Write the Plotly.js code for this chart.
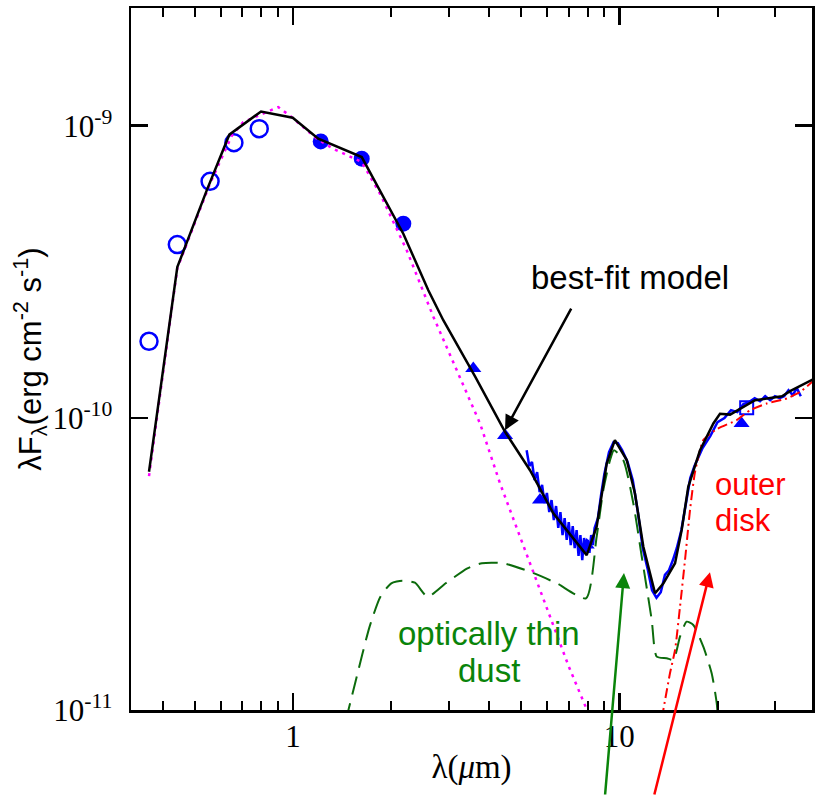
<!DOCTYPE html>
<html>
<head>
<meta charset="utf-8">
<script src="https://cdn.plot.ly/plotly-3.0.1.min.js"></script>
<style>
  html, body { margin: 0; padding: 0; background: #ffffff; }
  #sed { width: 816px; height: 796px; }
</style>
</head>
<body>
<div id="sed"></div>
<script>
// Spectral energy distribution: photometry, IRS spectrum and model components.
// Wavelengths in micron, fluxes as lambda*F_lambda in erg cm^-2 s^-1.

// Optical photometry (open circles)
const optWave = [0.362, 0.442, 0.557, 0.659, 0.788];
const optFlux = [1.829e-10, 3.918e-10, 6.450e-10, 8.747e-10, 9.767e-10];

// Near-infrared photometry (filled circles)
const nirWave = [1.216, 1.624, 2.178];
const nirFlux = [8.837e-10, 7.712e-10, 4.622e-10];

// Mid-infrared photometry (filled triangles)
const mirWave = [3.569, 4.465, 5.715, 7.944, 23.70];
const mirFlux = [1.475e-10, 8.71e-11, 5.231e-11, 3.670e-11, 9.569e-11];

// Far-side point (open square)
const sqWave = [24.57];
const sqFlux = [1.084e-10];

// IRS spectrum
const irsWave = [5.2, 5.3, 5.4, 5.5, 5.6, 5.7, 5.8, 5.9, 6.0, 6.1, 6.2, 6.3, 6.4, 6.5, 6.6, 6.7,
  6.8, 6.9, 7.0, 7.1, 7.2, 7.3, 7.4, 7.5, 7.6, 7.7, 7.8, 7.9, 8.0, 8.1, 8.2, 8.3, 8.4, 8.6, 8.8,
  9.0, 9.3, 9.6, 9.9, 10.2, 10.6, 11.0, 11.4, 11.8, 12.2, 12.6, 13.0, 13.4, 13.8, 14.2, 14.6,
  15.0, 15.5, 16.0, 16.5, 17.0, 17.5, 18, 19, 20, 21, 22, 23, 24, 25, 26, 27, 28, 29, 30, 31,
  32, 33, 34, 35, 36];
const irsFlux = [7.75e-11, 6.84e-11, 7.06e-11, 6.12e-11, 6.52e-11, 5.57e-11, 5.89e-11, 5.11e-11,
  5.53e-11, 4.76e-11, 5.23e-11, 4.47e-11, 4.99e-11, 4.20e-11, 4.76e-11, 3.97e-11, 4.54e-11,
  3.82e-11, 4.40e-11, 3.67e-11, 4.26e-11, 3.58e-11, 4.13e-11, 3.37e-11, 3.97e-11, 3.26e-11,
  3.88e-11, 3.47e-11, 3.82e-11, 3.45e-11, 3.97e-11, 3.67e-11, 4.20e-11, 4.54e-11, 5.48e-11,
  6.42e-11, 7.63e-11, 8.26e-11, 8.19e-11, 7.75e-11, 7.06e-11, 6.12e-11, 4.76e-11, 3.58e-11,
  3.06e-11, 2.57e-11, 2.42e-11, 2.53e-11, 2.90e-11, 3.01e-11, 3.26e-11, 3.58e-11, 4.13e-11,
  5.03e-11, 6.22e-11, 6.84e-11, 7.40e-11, 7.88e-11, 8.66e-11, 9.67e-11, 9.98e-11, 1.063e-10,
  1.046e-10, 1.114e-10, 1.132e-10, 1.168e-10, 1.141e-10, 1.186e-10, 1.150e-10, 1.186e-10,
  1.168e-10, 1.186e-10, 1.244e-10, 1.196e-10, 1.264e-10, 1.186e-10];

// Best-fit total model
const modelWave = [0.362, 0.442, 0.544, 0.638, 0.798, 0.998, 1.195, 1.624, 2.178, 2.598, 2.888,
  3.613, 4.465, 5.325, 6.277, 7.944, 8.523, 9.150, 9.694, 10.54, 11.17, 11.85, 12.87, 13.64,
  14.82, 15.53, 16.27, 17.68, 19.42, 20.35, 21.85, 26.06, 31.52, 33.37, 40];
const modelFlux = [6.54e-11, 3.28e-10, 6.01e-10, 9.32e-10, 1.119e-9, 1.065e-9, 9.03e-10, 7.81e-10,
  4.27e-10, 2.733e-10, 2.159e-10, 1.388e-10, 8.96e-11, 6.62e-11, 4.71e-11, 3.39e-11, 4.24e-11,
  6.98e-11, 8.39e-11, 7.17e-11, 5.51e-11, 3.62e-11, 2.51e-11, 2.71e-11, 3.18e-11, 4.13e-11,
  5.81e-11, 7.75e-11, 9.57e-11, 1.033e-10, 1.026e-10, 1.149e-10, 1.186e-10, 1.234e-10, 1.37e-10];

// Stellar photosphere
const photWave = [0.362, 0.442, 0.557, 0.650, 0.704, 0.901, 0.991, 1.182, 1.329, 1.624, 1.848,
  2.231, 2.692, 3.250, 3.743, 4.309, 4.963, 6.164, 7.002, 7.962, 8.25];
const photFlux = [6.32e-11, 3.25e-10, 6.35e-10, 9.26e-10, 1.029e-9, 1.158e-9, 1.070e-9, 9.03e-10,
  8.34e-10, 7.51e-10, 5.85e-10, 3.75e-10, 2.22e-10, 1.381e-10, 9.57e-11, 5.97e-11, 3.92e-11,
  2.09e-11, 1.408e-11, 1.0e-11, 8.9e-12];

// Optically thin dust component
const dustWave = [1.448, 1.550, 1.717, 1.853, 2.001, 2.161, 2.364, 2.584, 2.938, 3.424, 3.793,
  4.420, 5.325, 6.43, 7.907, 8.523, 8.933, 9.366, 9.633, 10.29, 11.04, 11.72, 12.57, 13.02,
  13.97, 14.64, 15.35, 16.09, 16.86, 18.09, 19.19, 19.89, 20.07];
const dustFlux = [9.1e-12, 1.235e-11, 1.929e-11, 2.442e-11, 2.715e-11, 2.771e-11, 2.727e-11,
  2.442e-11, 2.715e-11, 3.055e-11, 3.178e-11, 3.178e-11, 2.973e-11, 2.715e-11, 2.412e-11,
  3.917e-11, 5.66e-11, 7.165e-11, 7.75e-11, 7.165e-11, 5.10e-11, 3.346e-11, 2.033e-11,
  1.523e-11, 1.504e-11, 1.484e-11, 1.782e-11, 2.006e-11, 1.954e-11, 1.647e-11, 1.336e-11,
  1.055e-11, 9.25e-12];

// Outer disk component
const diskWave = [13.51, 14.30, 14.82, 15.35, 15.90, 16.47, 17.06, 18.09, 19.89, 22.89, 25.16,
  28.30, 32.58, 35.80, 39.5];
const diskFlux = [9.4e-12, 1.336e-11, 1.605e-11, 2.257e-11, 3.261e-11, 4.833e-11, 6.52e-11,
  8.39e-11, 9.15e-11, 9.82e-11, 1.062e-10, 1.120e-10, 1.165e-10, 1.227e-10, 1.345e-10];

// Axis ticks
const xMajor = [1, 10];
const xMajorText = ['1', '10'];
const xMinor = [0.4, 0.5, 0.6, 0.7, 0.8, 0.9, 2, 3, 4, 5, 6, 7, 8, 9, 20, 30];
const yMajor = [1e-11, 1e-10, 1e-9];
const yMajorText = ['10<sup>-11</sup>', '10<sup>-10</sup>', '10<sup>-9</sup>'];

const BLUE = '#0000ff';
const GREEN = '#0a840a';
const serif = 'Liberation Serif, Times New Roman, serif';
const sans = 'Liberation Sans, Arial, Helvetica, sans-serif';

const traces = [
  { x: optWave, y: optFlux, mode: 'markers', type: 'scatter',
    marker: { symbol: 'circle-open', size: 17, color: BLUE, line: { color: BLUE, width: 2.5 } } },
  { x: nirWave, y: nirFlux, mode: 'markers', type: 'scatter',
    marker: { symbol: 'circle', size: 16, color: BLUE } },
  { x: mirWave, y: mirFlux, mode: 'markers', type: 'scatter',
    marker: { symbol: 'triangle-up', size: 14, color: BLUE } },
  { x: sqWave, y: sqFlux, mode: 'markers', type: 'scatter',
    marker: { symbol: 'square-open', size: 13, color: BLUE, line: { color: BLUE, width: 2 } } },
  { x: irsWave, y: irsFlux, mode: 'lines', type: 'scatter',
    line: { color: BLUE, width: 2.5 } },
  { x: dustWave, y: dustFlux, mode: 'lines', type: 'scatter',
    line: { color: '#0c6b0c', width: 2, dash: '19px,9px', shape: 'spline', smoothing: 0.6 } },
  { x: diskWave, y: diskFlux, mode: 'lines', type: 'scatter',
    line: { color: '#ff0000', width: 2, dash: '10px,4px,2px,4px', shape: 'spline', smoothing: 0.5 } },
  { x: photWave, y: photFlux, mode: 'lines', type: 'scatter',
    line: { color: '#ff00ff', width: 2.5, dash: '3px,5px' } },
  { x: modelWave, y: modelFlux, mode: 'lines', type: 'scatter',
    line: { color: '#000000', width: 2.5 } }
];

const axisLine = {
  showgrid: false, zeroline: false, showline: true, linecolor: '#000000', linewidth: 2.5,
  mirror: 'allticks', ticks: 'inside', ticklen: 17, tickwidth: 2.5, tickcolor: '#000000',
  automargin: false
};

const layout = {
  width: 816, height: 796,
  margin: { l: 131, r: 4, t: 8, b: 86, pad: 0 },
  paper_bgcolor: '#ffffff', plot_bgcolor: '#ffffff',
  showlegend: false,
  xaxis: Object.assign({}, axisLine, {
    type: 'log', range: [-0.4965, 1.5906],
    tickmode: 'array', tickvals: xMajor, ticktext: xMajorText,
    tickfont: { family: serif, size: 31, color: '#000000' },
    ticklabelstandoff: -3,
    minor: { tickmode: 'array', tickvals: xMinor, ticks: 'inside', ticklen: 9, tickwidth: 2,
      tickcolor: '#000000', showgrid: false },
    title: { text: 'λ(<i>μ</i>m)', font: { family: serif, size: 33, color: '#000000' }, standoff: 2 }
  }),
  yaxis: Object.assign({}, axisLine, {
    type: 'log', range: [-11, -8.597],
    tickmode: 'array', tickvals: yMajor, ticktext: yMajorText,
    tickfont: { family: serif, size: 31, color: '#000000' },
    ticklabelstandoff: 10,
    title: { text: 'λF<sub>λ</sub>(erg cm<sup>-2</sup> s<sup>-1</sup>)',
      font: { family: sans, size: 31, color: '#000000' }, standoff: 0 }
  }),
  annotations: [
    { xref: 'paper', yref: 'paper', x: 0.7327, y: 0.6163, xanchor: 'center', yanchor: 'middle',
      text: 'best-fit model', showarrow: false, font: { family: sans, size: 33, color: '#000000' } },
    { xref: 'paper', yref: 'paper', x: 0.5257, y: 0.1083, xanchor: 'center', yanchor: 'middle',
      text: 'optically thin', showarrow: false, font: { family: sans, size: 33, color: GREEN } },
    { xref: 'paper', yref: 'paper', x: 0.5257, y: 0.0562, xanchor: 'center', yanchor: 'middle',
      text: 'dust', showarrow: false, font: { family: sans, size: 33, color: GREEN } },
    { xref: 'paper', yref: 'paper', x: 0.8546, y: 0.3218, xanchor: 'left', yanchor: 'middle',
      text: 'outer', showarrow: false, font: { family: sans, size: 31, color: '#ff0000' } },
    { xref: 'paper', yref: 'paper', x: 0.8546, y: 0.2698, xanchor: 'left', yanchor: 'middle',
      text: 'disk', showarrow: false, font: { family: sans, size: 31, color: '#ff0000' } },
    // pointer to the model curve
    { xref: 'paper', yref: 'paper', x: 0.5492, y: 0.3986, ax: 67, ay: -123, text: '',
      showarrow: true, arrowhead: 2, arrowsize: 1.2, arrowwidth: 2.5, arrowcolor: '#000000', standoff: 0 },
    // pointer to the silicate feature
    { xref: 'paper', yref: 'paper', x: 0.7239, y: 0.1950, ax: -19, ay: 227, text: '',
      showarrow: true, arrowhead: 2, arrowsize: 1.2, arrowwidth: 2.5, arrowcolor: GREEN, standoff: 0 },
    // pointer to the outer disk rise
    { xref: 'paper', yref: 'paper', x: 0.8502, y: 0.1964, ax: -56, ay: 228, text: '',
      showarrow: true, arrowhead: 2, arrowsize: 1.2, arrowwidth: 2.5, arrowcolor: '#ff0000', standoff: 0 }
  ]
};

Plotly.newPlot('sed', traces, layout, { displayModeBar: false, staticPlot: true });
</script>
</body>
</html>
